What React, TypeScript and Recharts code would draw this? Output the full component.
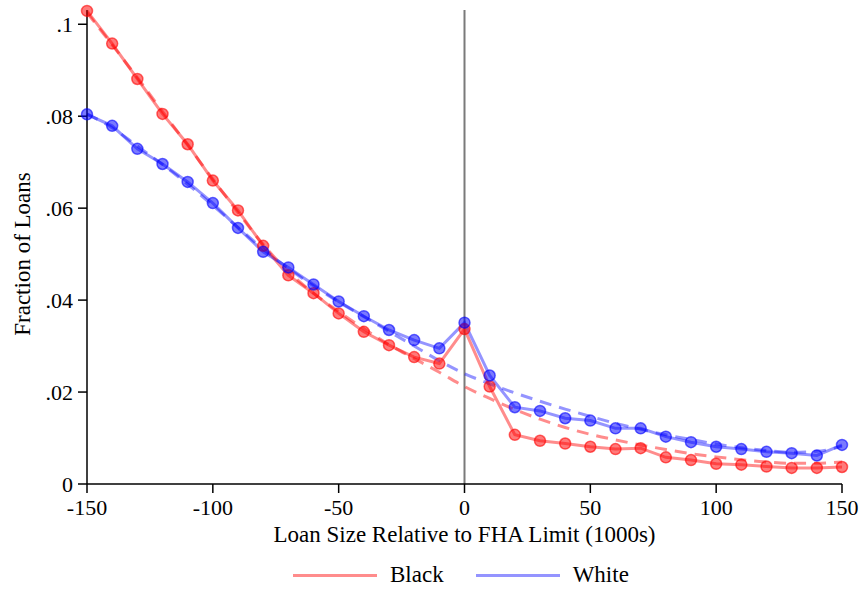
import { LineChart, Line, XAxis, YAxis, ReferenceLine } from 'recharts';

const loanSize = [
    -150, -140, -130, -120, -110, -100, -90, -80, -70, -60, -50, -40, -30, -20, -10,
    0, 10, 20, 30, 40, 50, 60, 70, 80, 90, 100, 110, 120, 130, 140, 150,
];

const blackShare = [
    0.1029, 0.0958, 0.0881, 0.0805, 0.0739, 0.0660, 0.0595, 0.0518, 0.0454, 0.0415, 0.0371, 0.0331, 0.0302, 0.0276, 0.0262,
    0.0337, 0.0212, 0.0107, 0.0094, 0.0088, 0.0081, 0.0076, 0.0078, 0.0058, 0.0052, 0.0044, 0.0042, 0.0038, 0.0035, 0.0035, 0.0037,
];

const whiteShare = [
    0.0804, 0.0779, 0.0729, 0.0696, 0.0657, 0.0611, 0.0557, 0.0505, 0.0471, 0.0434, 0.0397, 0.0365, 0.0335, 0.0313, 0.0295,
    0.0351, 0.0236, 0.0167, 0.0159, 0.0143, 0.0138, 0.0121, 0.0121, 0.0103, 0.0091, 0.0081, 0.0076, 0.0070, 0.0067, 0.0062, 0.0085,
];

// fitted counterfactual curves (dashed)
const blackFit = [
    0.1025, 0.0955, 0.0884, 0.0810, 0.0737, 0.0663, 0.0591, 0.0521, 0.0462, 0.0415, 0.0375, 0.0338, 0.0303, 0.0273, 0.0243,
    0.0212, 0.0186, 0.0162, 0.0141, 0.0123, 0.0108, 0.0096, 0.0085, 0.0075, 0.0066, 0.0059, 0.0053, 0.0048, 0.0045, 0.0045, 0.0048,
];

const whiteFit = [
    0.0805, 0.0775, 0.0735, 0.0695, 0.0652, 0.0606, 0.0558, 0.0511, 0.0469, 0.0431, 0.0396, 0.0364, 0.0332, 0.0300, 0.0268,
    0.0240, 0.0218, 0.0198, 0.0180, 0.0163, 0.0147, 0.0132, 0.0119, 0.0107, 0.0097, 0.0087, 0.0079, 0.0073, 0.0069, 0.0071, 0.0082,
];

const xTicks = [-150, -100, -50, 0, 50, 100, 150];
const yTicks = [0, 0.02, 0.04, 0.06, 0.08, 0.1];

const data = loanSize.map((x, i) => ({
    x,
    black: blackShare[i],
    white: whiteShare[i],
    blackFit: blackFit[i],
    whiteFit: whiteFit[i],
}));

const FONT = '"Liberation Serif", "Times New Roman", serif';
const RED = '#ff0000';
const BLUE = '#0000ff';

const fmtY = (v: number) => (v === 0 ? '0' : String(v).replace(/^0/, ''));

const makeDot = (color: string) => (props: any) => (
    <circle
        key={`${color}-${props.index}`}
        cx={props.cx}
        cy={props.cy}
        r={5.5}
        fill={color}
        fillOpacity={0.52}
        stroke={color}
        strokeOpacity={0.6}
        strokeWidth={1.5}
    />
);

const YLabel = ({ viewBox }: any) => {
    const cx = viewBox.x + 22;
    const cy = viewBox.y + viewBox.height / 2 + 7;
    return (
        <text
            x={cx}
            y={cy}
            transform={`rotate(-90, ${cx}, ${cy})`}
            textAnchor="middle"
            dominantBaseline="central"
            fontFamily={FONT}
            fontSize={23}
            fill="#000"
        >
            Fraction of Loans
        </text>
    );
};

export default function App() {
    const tickStyle = { fill: '#000', fontSize: 22, fontFamily: FONT };
    return (
        <div style={{ position: 'absolute', left: 0, top: 0, width: 862, height: 595, background: '#fff' }}>
            <LineChart width={862} height={595} data={data} margin={{ top: 10, right: 20, left: 0, bottom: 49 }}>
                <XAxis
                    type="number"
                    dataKey="x"
                    domain={[-150, 150]}
                    ticks={xTicks}
                    tick={tickStyle}
                    tickSize={9}
                    tickMargin={6}
                    stroke="#000"
                    strokeWidth={1.5}
                    height={62}
                    label={{
                        value: 'Loan Size Relative to FHA Limit (1000s)',
                        position: 'insideBottom',
                        offset: 4,
                        style: { fill: '#000', fontSize: 23, fontFamily: FONT },
                    }}
                />
                <YAxis
                    type="number"
                    domain={[0, 0.1031]}
                    ticks={yTicks}
                    tickFormatter={fmtY}
                    tick={tickStyle}
                    tickSize={9}
                    tickMargin={5}
                    stroke="#000"
                    strokeWidth={1.5}
                    width={87}
                    label={<YLabel />}
                />
                <ReferenceLine x={0} stroke="#7a7a7a" strokeWidth={2} />
                <Line
                    dataKey="black"
                    stroke={RED}
                    strokeOpacity={0.45}
                    strokeWidth={3}
                    dot={makeDot(RED)}
                    isAnimationActive={false}
                />
                <Line
                    dataKey="white"
                    stroke={BLUE}
                    strokeOpacity={0.42}
                    strokeWidth={3}
                    dot={makeDot(BLUE)}
                    isAnimationActive={false}
                />
                <Line
                    dataKey="blackFit"
                    type="monotone"
                    stroke={RED}
                    strokeOpacity={0.45}
                    strokeWidth={3}
                    strokeDasharray="12 8"
                    dot={false}
                    isAnimationActive={false}
                />
                <Line
                    dataKey="whiteFit"
                    type="monotone"
                    stroke={BLUE}
                    strokeOpacity={0.42}
                    strokeWidth={3}
                    strokeDasharray="12 8"
                    dot={false}
                    isAnimationActive={false}
                />
            </LineChart>
            <div
                style={{
                    position: 'absolute',
                    top: 562,
                    left: 293,
                    display: 'flex',
                    alignItems: 'center',
                    fontFamily: FONT,
                    fontSize: 23,
                    color: '#000',
                }}
            >
                <span style={{ width: 84, height: 3, background: 'rgba(255,0,0,0.45)', marginRight: 13 }} />
                <span style={{ marginRight: 32 }}>Black</span>
                <span style={{ width: 84, height: 3, background: 'rgba(0,0,255,0.42)', marginRight: 13 }} />
                <span>White</span>
            </div>
        </div>
    );
}
